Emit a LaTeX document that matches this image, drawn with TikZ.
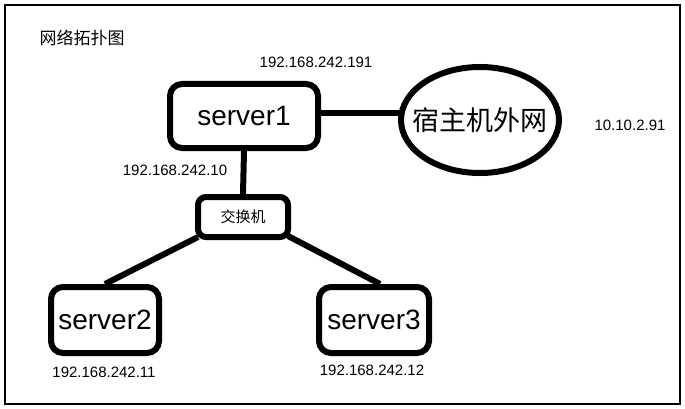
\documentclass[tikz,border=0pt]{standalone}
\usepackage{fontspec}
\setmainfont{Liberation Sans}
\newfontfamily\cjk{Noto Sans CJK SC}
\usetikzlibrary{shapes.geometric}
\tikzset{
  hostbox/.style={draw, line width=6pt, rounded corners=12pt, minimum width=148pt, minimum height=64pt, font=\fontsize{28}{30}\selectfont},
  ipnote/.style={font=\fontsize{15}{17}\selectfont},
  link/.style={line width=6pt}
}
\begin{document}
\begin{tikzpicture}[x=1pt,y=-1pt]
\useasboundingbox (0,0) rectangle (685,409);
\draw[line width=2pt] (5,5) rectangle (680,404);
% Nodos
\node[font=\cjk\fontsize{17}{19}\selectfont] (title) at (82,38) {网络拓扑图};
\node[hostbox] (S1) at (244,116) {server1};
\node[font=\cjk\fontsize{27}{29}\selectfont] (NET) at (480,120) {宿主机外网};
\draw[line width=6pt] (NET.center) ellipse [x radius=79pt, y radius=53pt];
\coordinate (NETw) at (401,113);
\node[hostbox, minimum width=90pt, minimum height=40pt, rounded corners=8pt, font=\cjk\fontsize{15}{17}\selectfont] (SW) at (243,217) {交换机};
\node[hostbox, minimum width=108pt, minimum height=66pt] (S2) at (105,320) {server2};
\node[hostbox, minimum width=110pt, minimum height=66pt] (S3) at (374,320) {server3};
% Etiquetas
\node[ipnote] (ip1) at (316,62) {192.168.242.191};
\node[ipnote] (ipnet) at (630,125) {10.10.2.91};
\node[ipnote] (ip10) at (175,170) {192.168.242.10};
\node[ipnote] (ip11) at (104,372) {192.168.242.11};
\node[ipnote] (ip12) at (372,370) {192.168.242.12};
% Ejes
\draw[link] (S1.east |- 0,113) -- (NETw);
\draw[link] (S1.south) -- (SW.north);
\draw[link] (SW.south west) ++(3,-3) -- (S2.north);
\draw[link] (SW.south east) ++(-3,-4) -- ([xshift=6pt]S3.north);
\end{tikzpicture}
\end{document}
